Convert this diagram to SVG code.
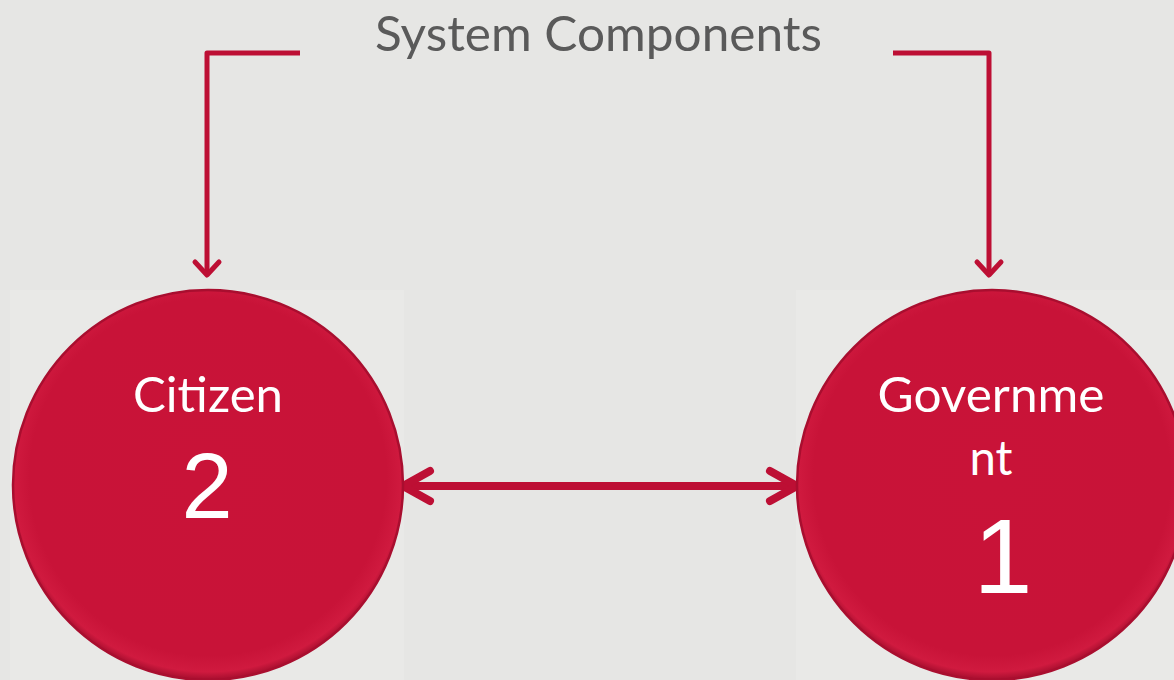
<svg xmlns="http://www.w3.org/2000/svg" width="1174" height="680" viewBox="0 0 1174 680">
<defs>
<style>
.bg{fill:#e6e6e4}
.tile{fill:#e9e9e7}
.conn{fill:none;stroke:#bd0f34;stroke-linecap:round;stroke-linejoin:round}
.thin{stroke-width:5}
.thick{stroke-width:8}
.disk{fill:url(#disk);stroke:#a90e2f;stroke-width:2.5}
.lbl{font-family:Lato,"Open Sans","Liberation Sans",sans-serif;fill:#ffffff;text-anchor:middle;font-size:48px}
.num{font-family:"Liberation Sans",Arial,sans-serif;fill:#ffffff;text-anchor:middle}
.title{font-family:Lato,"Open Sans","Liberation Sans",sans-serif;fill:#5a5a5a;font-size:48px}
</style>
<radialGradient id="disk" cx="50%" cy="48%" r="52%">
<stop offset="0" stop-color="#c91338"/>
<stop offset="0.88" stop-color="#c81338"/>
<stop offset="0.96" stop-color="#d01a3f"/>
<stop offset="1" stop-color="#a50e2e"/>
</radialGradient>
</defs>
<rect class="bg" x="0" y="0" width="1174" height="680"/>
<rect class="tile" x="10" y="290" width="394" height="390"/>
<rect class="tile" x="796" y="290" width="378" height="390"/>

<text class="title" x="375" y="51" textLength="447" lengthAdjust="spacingAndGlyphs">System Components</text>

<g id="connectors">
<polyline class="conn thin" points="300,53 207,53 207,275" style="stroke-linecap:butt"/>
<polyline class="conn thin" points="195,262 207,275 219,262"/>
<polyline class="conn thin" points="893,53 989,53 989,275" style="stroke-linecap:butt"/>
<polyline class="conn thin" points="977,262 989,275 1001,262"/>
<line class="conn thick" x1="404" y1="486" x2="797" y2="486"/>
<polyline class="conn thick" points="430,471 403,486 430,501"/>
<polyline class="conn thick" points="770,471 797,486 770,501"/>
</g>

<g id="citizen">
<circle class="disk" cx="208" cy="485" r="195"/>
<text class="lbl" x="208" y="412" textLength="150" lengthAdjust="spacingAndGlyphs">Citizen</text>
<text class="num" x="207" y="518" font-size="92">2</text>
</g>

<g id="government">
<circle class="disk" cx="992" cy="485" r="195"/>
<text class="lbl" x="991" y="412" textLength="227" lengthAdjust="spacingAndGlyphs">Governme</text>
<text class="lbl" x="991" y="475" textLength="43" lengthAdjust="spacingAndGlyphs">nt</text>
<text class="num" x="1003" y="593" font-size="106">1</text>
</g>
</svg>
